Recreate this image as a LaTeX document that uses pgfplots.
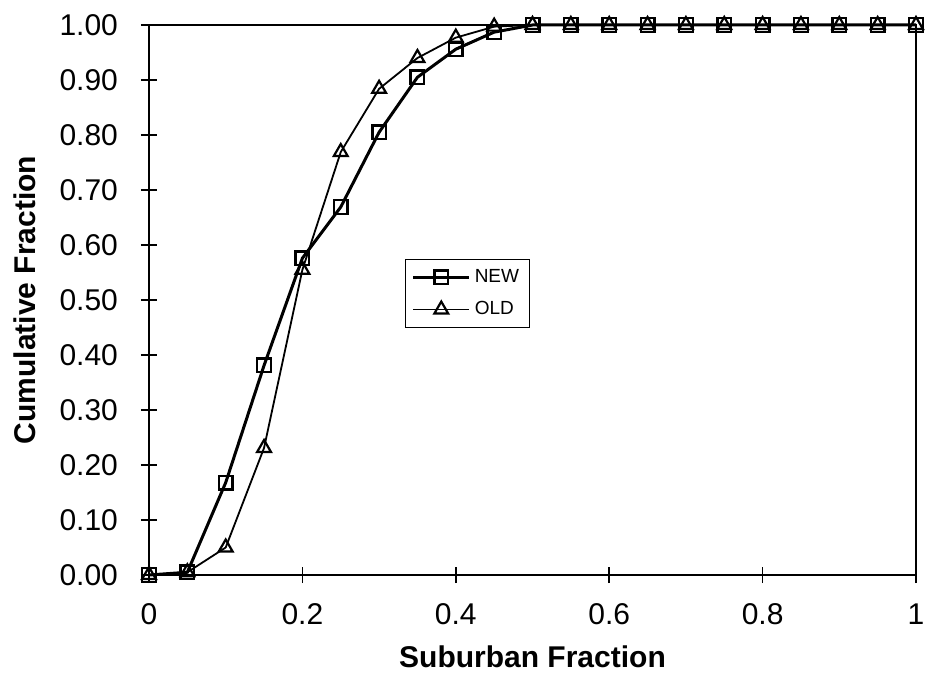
\documentclass[border=0pt]{standalone}
\usepackage{pgfplots}
\pgfplotsset{compat=1.18}
\usepackage{fontspec}
\setmainfont{Liberation Sans}

% cumulative fraction vs suburban fraction
\pgfplotstableread{
x     new    old
0.00  0.000  0.000
0.05  0.005  0.005
0.10  0.168  0.050
0.15  0.381  0.231
0.20  0.576  0.555
0.25  0.669  0.769
0.30  0.805  0.884
0.35  0.905  0.940
0.40  0.956  0.977
0.45  0.987  0.997
0.50  1.000  1.000
0.55  1.000  1.000
0.60  1.000  1.000
0.65  1.000  1.000
0.70  1.000  1.000
0.75  1.000  1.000
0.80  1.000  1.000
0.85  1.000  1.000
0.90  1.000  1.000
0.95  1.000  1.000
1.00  1.000  1.000
}\cdfdata

\begin{document}
\begin{tikzpicture}
\begin{axis}[
    at={(0,0)}, anchor=south west,
    scale only axis,
    width=383.5pt, height=275pt,
    xmin=0, xmax=1, ymin=0, ymax=1,
    xtick={0,0.2,0.4,0.6,0.8,1},
    ytick={0,0.1,...,1.0},
    xtick pos=left, ytick pos=left,
    tick align=center,
    major tick length=8pt,
    axis line style={line width=1.2pt},
    every tick/.style={black, line width=0.8pt},
    /pgf/number format/assume math mode=true,
    yticklabel style={/pgf/number format/fixed, /pgf/number format/fixed zerofill, /pgf/number format/precision=2, font=\fontsize{15}{18}\selectfont, xshift=-8pt},
    xticklabel style={font=\fontsize{15}{18}\selectfont, text height=11pt, text depth=0pt, yshift=-6pt},
    scaled y ticks=false,
    xlabel={\textbf{Suburban Fraction}},
    ylabel={\textbf{Cumulative Fraction}},
    every axis x label/.style={at={([yshift=-41pt]axis description cs:0.5,0)}, anchor=center, font=\fontsize{15}{18}\selectfont},
    every axis y label/.style={at={([xshift=-62pt]axis description cs:0,0.5)}, anchor=center, rotate=90, font=\fontsize{15}{18}\selectfont},
    clip=false,
    legend cell align=left,
    legend style={at={(axis description cs:0.334,0.575)}, anchor=north west,
        draw=black, line width=0.6pt, font=\fontsize{9.5}{10}\selectfont,
        inner xsep=3pt, inner ysep=3pt, row sep=4pt,
        /tikz/every even column/.append style={column sep=0pt}},
    legend image code/.code={
        \draw[mark repeat=2, mark phase=2] plot coordinates {(0pt,0pt) (14pt,0pt) (28pt,0pt)};},
]
\addplot[black, line width=1.5pt, mark=square, mark size=3.4pt,
    mark options={line width=1.2pt, fill=white}] table[x=x, y=new] {\cdfdata};
\addlegendentry{NEW}
\addplot[black, line width=0.9pt, mark=triangle, mark size=4pt,
    mark options={line width=1.1pt, fill=white}] table[x=x, y=old] {\cdfdata};
\addlegendentry{OLD}
\end{axis}
\pgfresetboundingbox
\path (-74.5pt,-50.5pt) rectangle (388.5pt,287.5pt);
\end{tikzpicture}
\end{document}
